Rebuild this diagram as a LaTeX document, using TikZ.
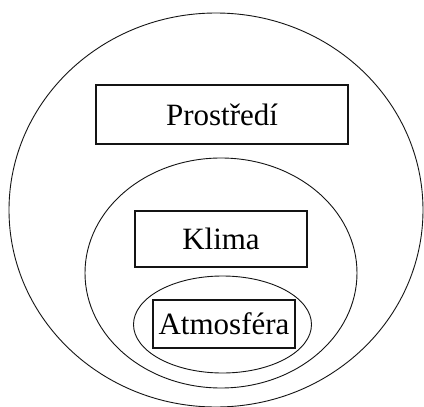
\documentclass[tikz,border=0pt]{standalone}
\usepackage{fontspec}
\newfontfamily\boxfont{Liberation Serif}
\usepackage{tikz}
\usetikzlibrary{positioning}

\definecolor{linecolor}{RGB}{20, 20, 20}
\definecolor{labelcolor}{RGB}{0, 0, 0}

\tikzset{
levelbox/.style={
  draw=linecolor,
  line width=1.2pt,
  fill=white,
  inner sep=0pt,
  font=\boxfont\fontsize{31}{33}\selectfont,
  text=labelcolor,
  align=center
},
levelring/.style={
  draw=linecolor,
  line width=0.9pt
}
}

\begin{document}
\begin{tikzpicture}[
    x=1pt, y=-1pt,
]

\useasboundingbox (0, 0) rectangle (424, 407);
\clip (0, 0) rectangle (424, 407);
\fill[white] (0, 0) rectangle (424, 407);

% ============================================================================
% PROSTREDI
% ============================================================================
\draw[levelring] (216, 210) ellipse [x radius=207, y radius=197];
\node[levelbox, minimum width=252pt, minimum height=59pt] (prostredi) at (222, 114.5) {Prostředí};

% ============================================================================
% KLIMA
% ============================================================================
\draw[levelring] (221, 273) ellipse [x radius=136, y radius=115];
\node[levelbox, minimum width=172pt, minimum height=56pt] (klima) at (221, 239) {Klima};

% ============================================================================
% ATMOSFERA
% ============================================================================
\draw[levelring] (222.5, 324.5) ellipse [x radius=89, y radius=48.5];
\node[levelbox, minimum width=142pt, minimum height=48pt] (atmosfera) at (224, 324) {Atmosféra};

\end{tikzpicture}
\end{document}
